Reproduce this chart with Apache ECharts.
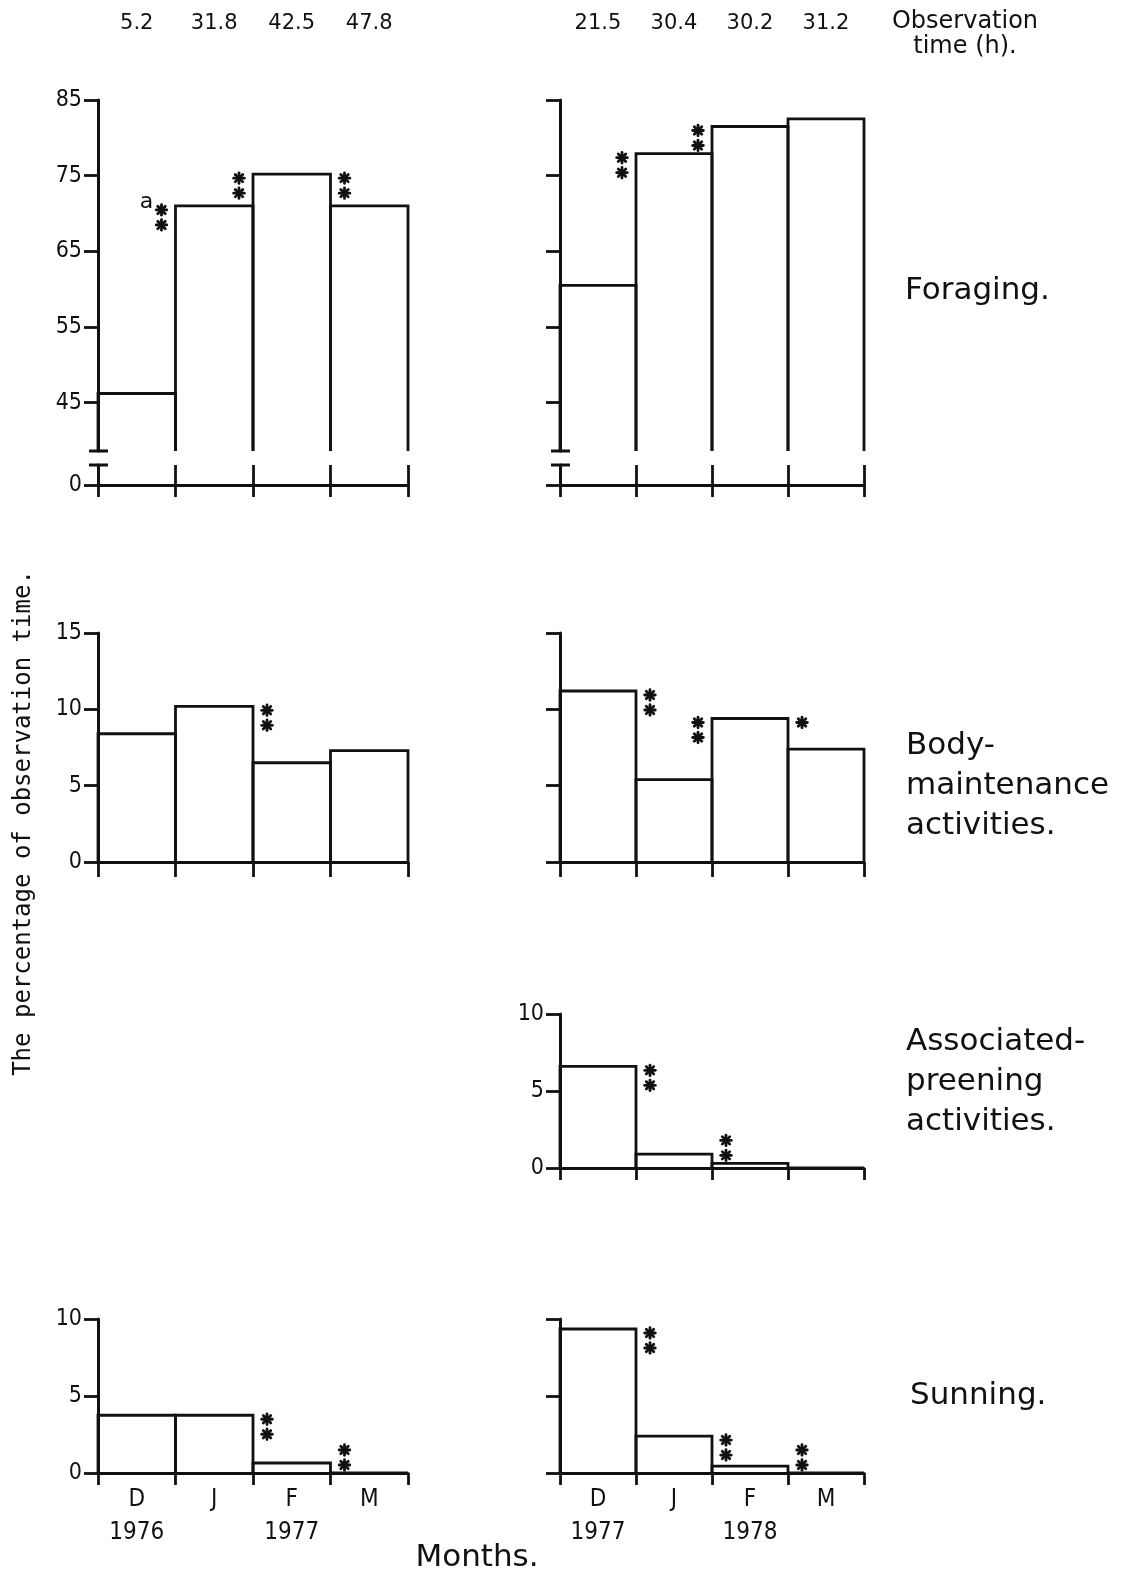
<!DOCTYPE html>
<html>
<head>
<meta charset="utf-8">
<script src="https://cdn.jsdelivr.net/npm/echarts@6/dist/echarts.min.js"></script>
<style>
  html, body { margin: 0; padding: 0; background: #fff; }
  #chart { width: 1130px; height: 1579px; }
</style>
</head>
<body>
<div id="chart"></div>
<script>
// ---- data ----
const months = ['D', 'J', 'F', 'M'];
const yearsLeft = ['1976', '', '1977', ''];
const yearsRight = ['1977', '', '1978', ''];
const hoursLeft = ['5.2', '31.8', '42.5', '47.8'];
const hoursRight = ['21.5', '30.4', '30.2', '31.2'];

const foragingLeft = [46.2, 71.0, 75.2, 71.0];
const foragingRight = [60.5, 77.9, 81.5, 82.5];
const bodyLeft = [8.4, 10.2, 6.5, 7.3];
const bodyRight = [11.2, 5.4, 9.4, 7.4];
const preeningRight = [6.6, 0.9, 0.3, 0.0];
const sunningLeft = [3.75, 3.75, 0.65, 0.0];
const sunningRight = [9.35, 2.4, 0.45, 0.0];

// significance of the change between consecutive months (D-J, J-F, F-M)
const sigForagingLeft = ['a**', '**', '**'];
const sigForagingRight = ['**', '**', ''];
const sigBodyLeft = ['', '**', ''];
const sigBodyRight = ['**', '**', '*'];
const sigPreeningRight = ['**', '**', ''];
const sigSunningLeft = ['', '**', '**'];
const sigSunningRight = ['**', '**', '**'];

const foragingTicks = [45, 55, 65, 75, 85];

// ---- layout ----
const FONT_C = "'DejaVu Sans Condensed', 'DejaVu Sans', sans-serif";
const FONT = "'DejaVu Sans', sans-serif";
const FONT_M = "'DejaVu Sans Mono', monospace";
const INK = '#111';
const LW = 2.8;
const COL_L = { left: 98, width: 310 };
const COL_R = { left: 560, width: 304 };
const ROWS = {
  forUp: { top: 100, height: 351 },
  forLow: { top: 465, height: 20 },
  body: { top: 633, height: 229 },
  pre: { top: 1014, height: 154 },
  sun: { top: 1319, height: 154 }
};

const grids = [
  Object.assign({}, COL_L, ROWS.forUp),   // 0
  Object.assign({}, COL_L, ROWS.forLow),  // 1
  Object.assign({}, COL_R, ROWS.forUp),   // 2
  Object.assign({}, COL_R, ROWS.forLow),  // 3
  Object.assign({}, COL_L, ROWS.body),    // 4
  Object.assign({}, COL_R, ROWS.body),    // 5
  Object.assign({}, COL_R, ROWS.pre),     // 6
  Object.assign({}, COL_L, ROWS.sun),     // 7
  Object.assign({}, COL_R, ROWS.sun)      // 8
].map(g => Object.assign({ outerBoundsMode: 'none', containLabel: false }, g));

function catAxis(gi, opts) {
  opts = opts || {};
  return {
    type: 'category', gridIndex: gi, data: months, boundaryGap: true,
    show: opts.show !== false,
    axisLine: { show: true, lineStyle: { color: INK, width: 3 } },
    axisTick: { show: true, length: opts.tick || 13, interval: 0, lineStyle: { color: INK, width: LW } },
    axisLabel: opts.years ? {
      show: true, interval: 0, margin: 10, color: INK, fontFamily: FONT_C, fontSize: 24, lineHeight: 33,
      formatter: (v, i) => opts.years[i] ? v + '\n' + opts.years[i] : v
    } : { show: false },
    splitLine: opts.split ? { show: true, interval: 0, lineStyle: { color: INK, width: LW } } : { show: false }
  };
}

function hoursAxis(gi, hours) {
  return {
    type: 'category', gridIndex: gi, data: hours, position: 'top', offset: 58,
    axisLine: { show: false }, axisTick: { show: false },
    axisLabel: { interval: 0, margin: 8, color: INK, fontFamily: FONT, fontSize: 21 },
    splitLine: { show: false }
  };
}

function valAxis(gi, o) {
  const labels = o.labels !== false;
  const ax = {
    type: 'value', gridIndex: gi, min: o.min, max: o.max,
    axisLine: { show: true, lineStyle: { color: INK, width: 3 } },
    axisTick: { show: true, length: 14, lineStyle: { color: INK, width: LW } },
    axisLabel: { show: labels, margin: 16, color: INK, fontFamily: FONT_C, fontSize: 23 },
    splitLine: { show: false }
  };
  if (o.interval) ax.interval = o.interval;
  if (o.custom) {
    ax.axisTick.customValues = o.custom;
    ax.axisLabel.customValues = o.custom;
  }
  return ax;
}

const xAxes = [
  catAxis(0, { show: false }),
  catAxis(1, { split: true, tick: 12 }),
  catAxis(2, { show: false }),
  catAxis(3, { split: true, tick: 12 }),
  catAxis(4, { tick: 15 }),
  catAxis(5, { tick: 15 }),
  catAxis(6, { tick: 12 }),
  catAxis(7, { tick: 12, years: yearsLeft }),
  catAxis(8, { tick: 12, years: yearsRight }),
  hoursAxis(0, hoursLeft),   // 9
  hoursAxis(2, hoursRight)   // 10
];

const yAxes = [
  valAxis(0, { min: 38.6, max: 85, custom: foragingTicks }),
  valAxis(1, { min: 0, max: 1, custom: [0] }),
  valAxis(2, { min: 38.6, max: 85, custom: foragingTicks, labels: false }),
  valAxis(3, { min: 0, max: 1, custom: [0], labels: false }),
  valAxis(4, { min: 0, max: 15, interval: 5 }),
  valAxis(5, { min: 0, max: 15, interval: 5, labels: false }),
  valAxis(6, { min: 0, max: 10, interval: 5 }),
  valAxis(7, { min: 0, max: 10, interval: 5 }),
  valAxis(8, { min: 0, max: 10, interval: 5, labels: false })
];

// open histogram bars: left, top and right edges only
function barSeries(gi, values) {
  return {
    type: 'custom', xAxisIndex: gi, yAxisIndex: gi, silent: true, clip: false,
    data: values.map((v, i) => [i, v]),
    renderItem(params, api) {
      const top = api.coord([api.value(0), api.value(1)]);
      const w = api.size([1, 0])[0];
      const cs = params.coordSys;
      const base = cs.y + cs.height;
      const x0 = top[0] - w / 2, x1 = top[0] + w / 2;
      return {
        type: 'polyline',
        shape: { points: [[x0, base], [x0, top[1]], [x1, top[1]], [x1, base]] },
        style: { stroke: INK, fill: 'none', lineWidth: LW, lineJoin: 'miter' }
      };
    }
  };
}

// one asterisk drawn as four crossing strokes
function starShape(cx, cy) {
  const r = 5.3;
  const d = r * Math.SQRT1_2;
  const segs = [[-r, 0, r, 0], [0, -r, 0, r], [-d, -d, d, d], [-d, d, d, -d]];
  return segs.map(s => ({
    type: 'line',
    shape: { x1: cx + s[0], y1: cy + s[1], x2: cx + s[2], y2: cy + s[3] },
    style: { stroke: INK, lineWidth: 2.8, lineCap: 'round' }
  }));
}

// significance asterisks placed beside the month boundary, over the lower bar
const STAR_STEP = 15;
function sigSeries(gi, values, sigs) {
  const items = [];
  sigs.forEach((s, p) => { if (s) items.push({ p: p, text: s }); });
  return {
    type: 'custom', xAxisIndex: gi, yAxisIndex: gi, silent: true, clip: false,
    data: items.map(it => [it.p, values[it.p]]),
    renderItem(params, api) {
      const it = items[params.dataIndex];
      const p = it.p;
      const a = api.coord([p, values[p]]);
      const b = api.coord([p + 1, values[p + 1]]);
      const xb = (a[0] + b[0]) / 2;
      const lowerLeft = values[p] < values[p + 1];
      const lowY = lowerLeft ? a[1] : b[1];
      const highY = lowerLeft ? b[1] : a[1];
      const n = (it.text.match(/\*/g) || []).length;
      const note = it.text.replace(/\*/g, '');
      const stackH = (n - 1) * STAR_STEP + 10;
      const top = Math.min(highY - 1, lowY - stackH - 3);
      const x = xb + (lowerLeft ? -14 : 14);
      let children = [];
      for (let k = 0; k < n; k++) {
        children = children.concat(starShape(x, top + 5 + k * STAR_STEP));
      }
      if (note) {
        children.push({
          type: 'text', x: x - 15, y: top - 3,
          style: { text: note, fill: INK, fontSize: 22, fontFamily: FONT, align: 'center', verticalAlign: 'middle' }
        });
      }
      return { type: 'group', children: children };
    }
  };
}

const series = [
  barSeries(0, foragingLeft), sigSeries(0, foragingLeft, sigForagingLeft),
  barSeries(2, foragingRight), sigSeries(2, foragingRight, sigForagingRight),
  barSeries(4, bodyLeft), sigSeries(4, bodyLeft, sigBodyLeft),
  barSeries(5, bodyRight), sigSeries(5, bodyRight, sigBodyRight),
  barSeries(6, preeningRight), sigSeries(6, preeningRight, sigPreeningRight),
  barSeries(7, sunningLeft), sigSeries(7, sunningLeft, sigSunningLeft),
  barSeries(8, sunningRight), sigSeries(8, sunningRight, sigSunningRight)
];

// axis-break caps on the foraging value axes
function breakCaps(col) {
  const yA = ROWS.forUp.top + ROWS.forUp.height;
  const yB = ROWS.forLow.top;
  return [yA, yB].map(y => ({
    type: 'line', silent: true,
    shape: { x1: col.left - 9, y1: y, x2: col.left + 10, y2: y },
    style: { stroke: INK, lineWidth: 3 }
  }));
}

function label(x, y, text, size, extra) {
  return {
    type: 'text', x: x, y: y, silent: true,
    style: Object.assign({
      text: text, fill: INK, fontFamily: FONT, fontSize: size,
      align: 'left', verticalAlign: 'middle', lineHeight: 40
    }, extra || {})
  };
}

const graphic = [].concat(
  breakCaps(COL_L), breakCaps(COL_R),
  [
    label(965, 34, 'Observation\ntime (h).', 24, { align: 'center', lineHeight: 25 }),
    label(905, 291, 'Foraging.', 31),
    label(906, 786, 'Body-\nmaintenance\nactivities.', 31),
    label(906, 1082, 'Associated-\npreening\nactivities.', 31),
    label(910, 1396, 'Sunning.', 31),
    label(477, 1558, 'Months.', 31, { align: 'center' }),
    {
      type: 'text', x: 24, y: 823, rotation: Math.PI / 2, silent: true,
      style: { text: 'The percentage of observation time.', fill: INK, fontFamily: FONT_M, fontSize: 24, align: 'center', verticalAlign: 'middle' }
    }
  ]
);

const chart = echarts.init(document.getElementById('chart'), null, { renderer: 'canvas' });
chart.setOption({
  backgroundColor: '#fff',
  animation: false,
  grid: grids,
  xAxis: xAxes,
  yAxis: yAxes,
  series: series,
  graphic: graphic
});
</script>
</body>
</html>
